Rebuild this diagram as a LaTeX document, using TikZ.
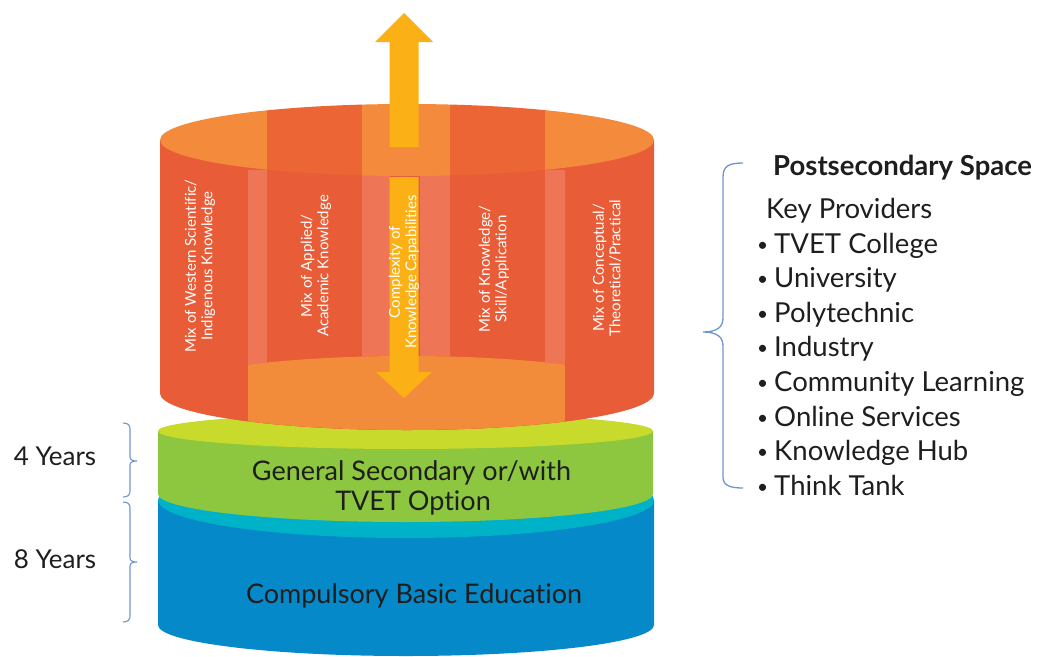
\documentclass[tikz,border=0pt]{standalone}
\usepackage{fontspec}
\setmainfont{Lato}[Ligatures=NoCommon]

\definecolor{toplight}{HTML}{F48B3C}
\definecolor{topdark}{HTML}{EB6634}
\definecolor{orangeside}{HTML}{E85C37}
\definecolor{stripe}{HTML}{EE7656}
\definecolor{floor}{HTML}{F28B3A}
\definecolor{arrowyellow}{HTML}{FBB016}
\definecolor{greentop}{HTML}{C8DA2B}
\definecolor{greenside}{HTML}{8DC63F}
\definecolor{cyantop}{HTML}{00B2C8}
\definecolor{blueside}{HTML}{0589C9}
\definecolor{braceblue}{HTML}{6E95CD}
\definecolor{ink}{HTML}{1E1E1E}

\newcommand{\dotitem}{\raisebox{2pt}{\fontsize{19}{19}\selectfont\textbullet}\kern6pt}

\begin{document}
\begin{tikzpicture}[x=1pt, y=1pt,
	panel/.style={white, rotate=90, align=center, inner sep=0pt, font=\fontsize{15}{16.5}\selectfont},
	layer/.style={text=ink, anchor=base, inner sep=0pt, font=\fontsize{27}{30}\selectfont},
	item/.style={text=ink, anchor=base west, inner sep=0pt, font=\fontsize{27.5}{30}\selectfont},
	bracket/.style={draw=braceblue, line width=1.3pt}]
	\useasboundingbox (0,0) rectangle (1040,-656);

	% basic education: blue drum with cyan lid
	\fill[blueside] (158,-500) -- (158,-625) arc (180:360:248 and 31) -- (654,-500) -- cycle;
	\fill[cyantop] (406,-500) ellipse (248 and 38);

	% secondary band
	\fill[greenside] (158,-431) -- (158,-494) arc (180:360:247.5 and 28) -- (653,-431) -- cycle;
	\fill[greentop] (405.5,-431) ellipse (247.5 and 18);

	% postsecondary drum, seen through
	\fill[orangeside] (160,-140) -- (160,-393) arc (180:360:247 and 37) -- (654,-140) -- cycle;
	\foreach \a/\b in {248/267, 362/390, 420/450, 545/565}
		\fill[stripe] (\a,-170) rectangle (\b,-393);
	\begin{scope}
		\clip (407,-393) ellipse (247 and 37);
		\fill[orangeside] (160,-350) rectangle (654,-435);
		\fill[floor] (248,-350) rectangle (565,-435);
	\end{scope}
	\begin{scope}
		\clip (407,-140) ellipse (247 and 36);
		\foreach \a/\b/\c in {160/267/toplight, 267/362/topdark, 362/450/toplight, 450/545/topdark, 545/654/toplight}
			\fill[\c] (\a,-100) rectangle (\b,-180);
	\end{scope}

	% complexity arrows
	\fill[arrowyellow] (389.5,-147) -- (389.5,-42) -- (375,-42) -- (404,-13) -- (433,-42) -- (418.5,-42) -- (418.5,-147) -- cycle;
	\fill[arrowyellow] (389.5,-177) -- (389.5,-372) -- (376,-372) -- (404,-398) -- (432,-372) -- (418.5,-372) -- (418.5,-177) -- cycle;

	\node[panel] (western) at (200,-266) {Mix of Western Scientific/\\Indigenous Knowledge};
	\node[panel] (applied) at (316,-266) {Mix of Applied/\\Academic Knowledge};
	\node[panel] (complexity) at (404,-272) {Complexity of\\Knowledge Capabilities};
	\node[panel] (skill) at (494,-269) {Mix of Knowledge/\\Skill/Application};
	\node[panel] (conceptual) at (607,-268) {Mix of Conceptual/\\Theoretical/Practical};

	\node[layer] (secondary) at (411.5,-480) {General Secondary or/with};
	\node[layer] (tvet) at (413,-510) {TVET Option};
	\node[layer] (basic) at (414,-603) {Compulsory Basic Education};

	% years on the left
	\node[layer, font=\fontsize{26}{30}\selectfont] (four) at (55,-465) {4 Years};
	\node[layer, font=\fontsize{26}{30}\selectfont] (eight) at (55,-568) {8 Years};
	\foreach \t/\m/\b in {423/461/497, 502/562/622}
		\draw[bracket, line width=1.1pt] (123,-\t) .. controls (128,-\t) and (130,-\t-2) .. (130,-\t-6) -- (130,-\m+4) .. controls (130,-\m+1) and (133,-\m) .. (137,-\m) .. controls (133,-\m) and (130,-\m-1) .. (130,-\m-4) -- (130,-\b+6) .. controls (130,-\b+2) and (128,-\b) .. (123,-\b);

	% providers on the right
	\draw[bracket] (743,-163) .. controls (729,-163) and (723,-166) .. (723,-177) -- (723,-318) .. controls (723,-327) and (717,-332) .. (703,-332) .. controls (717,-332) and (723,-337) .. (723,-346) -- (723,-477) .. controls (723,-485) and (729,-488) .. (743,-488);
	\node[item, font=\bfseries\fontsize{27.5}{30}\selectfont] (title) at (773,-175) {Postsecondary Space};
	\node[item] (providers) at (766,-218) {Key Providers};
	\foreach \p [count=\i] in {TVET College, University, Polytechnic, Industry, Community Learning, Online Services, Knowledge Hub, Think Tank}
		\node[item] (p\i) at (757,{-253-34.6*(\i-1)}) {\dotitem\p};
\end{tikzpicture}
\end{document}
